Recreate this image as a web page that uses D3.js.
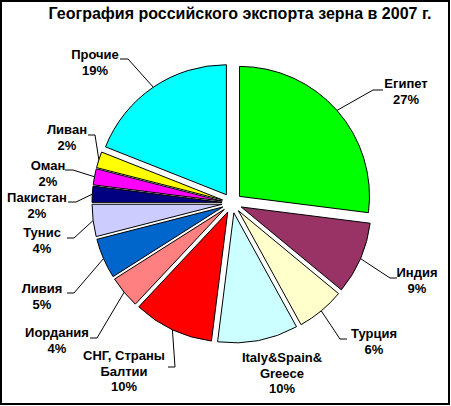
<!DOCTYPE html>
<html><head><meta charset="utf-8">
<script src="https://cdn.jsdelivr.net/npm/d3@7"></script>
<style>body{margin:0;background:#fff}svg{display:block}</style>
</head><body>
<script>
const categories = ["Египет","Индия","Турция","Italy&Spain&Greece","СНГ, Страны Балтии","Иордания","Ливия","Тунис","Пакистан","Оман","Ливан","Прочие"];
const values = [27,9,6,10,10,4,5,4,2,2,2,19];
const labelLines = [["Египет","27%"],["Индия","9%"],["Турция","6%"],["Italy&Spain&","Greece","10%"],["СНГ, Страны","Балтии","10%"],["Иордания","4%"],["Ливия","5%"],["Тунис","4%"],["Пакистан","2%"],["Оман","2%"],["Ливан","2%"],["Прочие","19%"]];
const colors = ["#00FF00","#993366","#FFFFCC","#CCFFFF","#FF0000","#FF8080","#0066CC","#CCCCFF","#000080","#FF00FF","#FFFF00","#00FFFF"];
const title = "География российского экспорта зерна в 2007 г.";

// layout: label center x, first-line center y, leader start, elbow
const layout = [
  {x:406,y:83, s:[383,90], e:[373,90]},
  {x:417,y:272,s:[397,278],e:[390,278]},
  {x:374,y:333,s:[347,339],e:[340,339]},
  {x:282,y:357,s:null,e:null},
  {x:124,y:355,s:[168,367],e:[175,367]},
  {x:57,y:332, s:[90,338],e:[97,338]},
  {x:42,y:288, s:[67,293],e:[74,293]},
  {x:42,y:232, s:[67,238],e:[74,238]},
  {x:37,y:197, s:[68,202],e:[76,202]},
  {x:48,y:165, s:[65,170],e:[73,170]},
  {x:67,y:129, s:[88,135],e:[95,135]},
  {x:95,y:54,  s:[120,59],e:[128,59]}
];

const W=451,H=406;
const svg=d3.select("body").append("svg").attr("width",W).attr("height",H);
svg.append("rect").attr("width",W).attr("height",H).attr("fill","#fff");
svg.append("rect").attr("x",1).attr("y",1).attr("width",448).attr("height",403)
  .attr("fill","none").attr("stroke","#000").attr("stroke-width",2);

svg.append("text").attr("x",240).attr("y",19).attr("text-anchor","middle")
  .attr("font-family","Arial, 'Liberation Sans', sans-serif").attr("font-weight","bold")
  .attr("font-size",16).text(title);

const cx=232, cy=203, R=130, off=10;
const pie=d3.pie().sort(null).value(d=>d)(values);
const arc=d3.arc().innerRadius(0).outerRadius(R);
const g=svg.append("g").attr("transform",`translate(${cx},${cy})`);
pie.forEach((p,i)=>{
  const m=(p.startAngle+p.endAngle)/2;
  const dx=off*Math.sin(m), dy=-off*Math.cos(m);
  g.append("path").attr("d",arc(p)).attr("transform",`translate(${dx},${dy})`)
    .attr("fill",colors[i]).attr("stroke","#000").attr("stroke-width",1);
  const L=layout[i];
  if(L.s){
    const ax=cx+dx+R*Math.sin(m), ay=cy+dy-R*Math.cos(m);
    svg.append("polyline").attr("points",[L.s,L.e,[ax,ay]].map(p=>p.join(",")).join(" "))
      .attr("fill","none").attr("stroke","#000").attr("stroke-width",1);
  }
  const t=svg.append("text").attr("text-anchor","middle")
    .attr("font-family","Arial, 'Liberation Sans', sans-serif").attr("font-weight","bold")
    .attr("font-size",13);
  labelLines[i].forEach((ln,j)=>{
    t.append("tspan").attr("x",L.x).attr("y",L.y+5+j*15.5).text(ln);
  });
});
</script>
</body></html>
